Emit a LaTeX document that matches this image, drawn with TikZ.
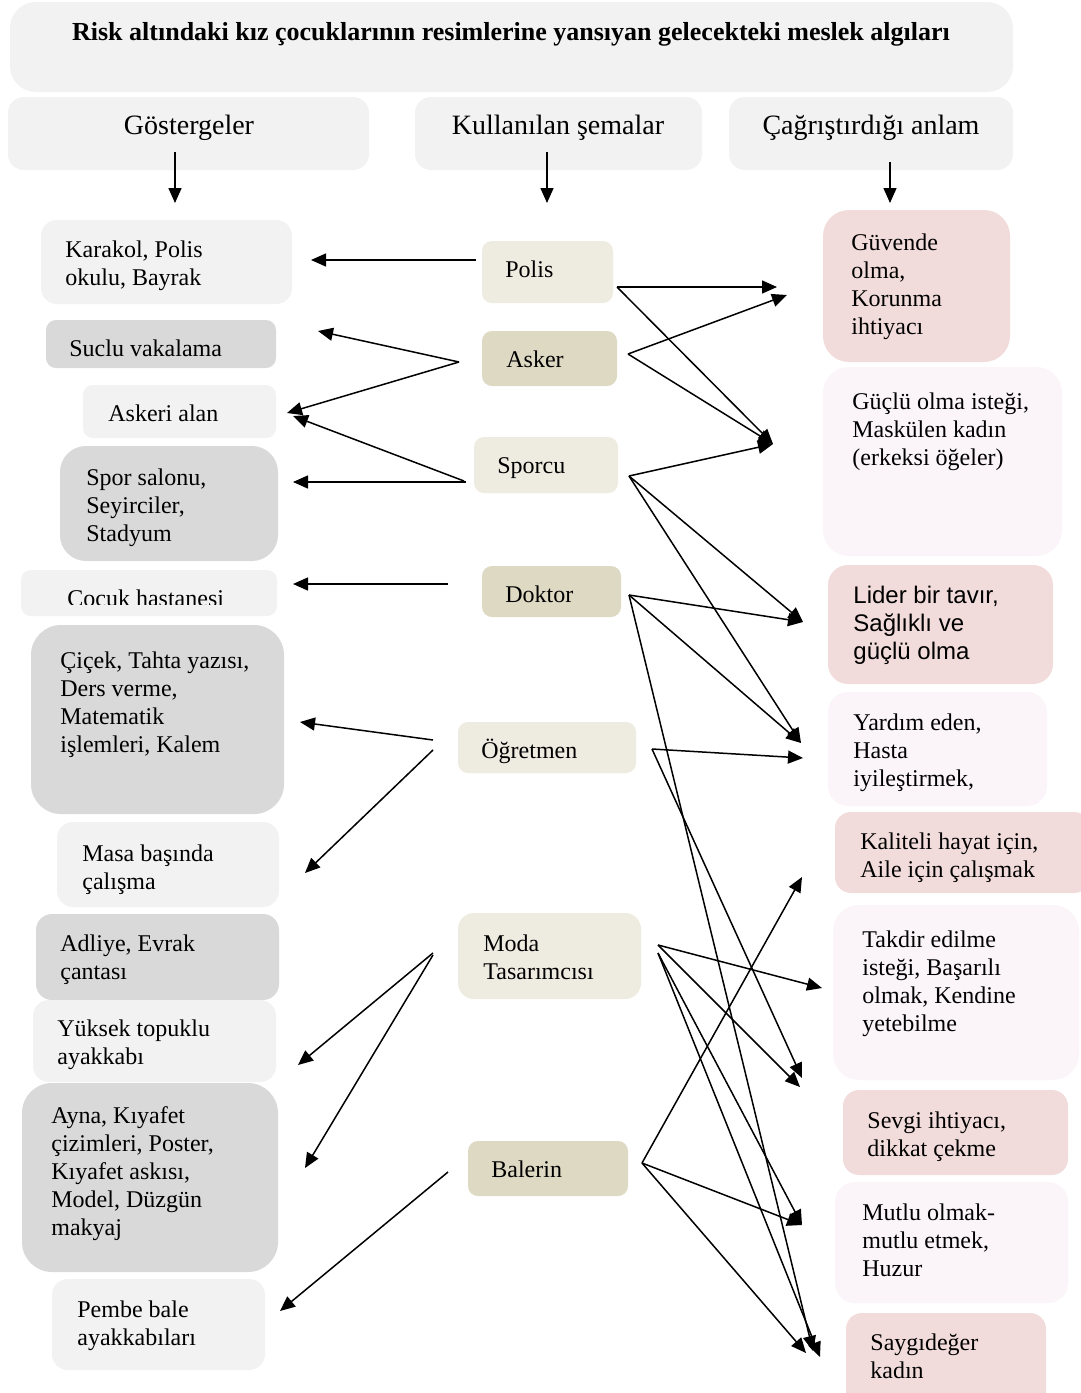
\documentclass[tikz,border=0pt]{standalone}
\usepackage{fontspec}
\setmainfont{Liberation Serif}
\newfontfamily\sansf{Liberation Sans}
\usetikzlibrary{arrows.meta,fit}
\definecolor{lg}{HTML}{F2F2F2}
\definecolor{dg}{HTML}{D9D9D9}
\definecolor{lb}{HTML}{EEECE1}
\definecolor{db}{HTML}{DDD9C3}
\definecolor{pk}{HTML}{F2DCDB}
\definecolor{lp}{HTML}{FBF5F9}
\begin{document}
\begin{tikzpicture}[x=0.5pt,y=-0.5pt,
  arr/.style={-{Triangle[length=7.5pt,width=6.5pt]}, line width=0.75pt},
  bx/.style={inner sep=0pt, draw=none, rounded corners=5pt},
  bigbx/.style={inner sep=0pt, draw=none, rounded corners=13pt},
  txt/.style={anchor=north west, inner sep=0pt, align=left,
    font=\fontsize{12}{14}\selectfont, execute at begin node={\rule{0pt}{10pt}}},
  stxt/.style={txt, font=\sansf\fontsize{12}{14}\selectfont},
  head/.style={inner sep=0pt, font=\fontsize{14}{16}\selectfont},
]
\clip (0,0) rectangle (1081,1393);
\fill[white] (0,0) rectangle (1081,1393);

% title and headers
\node[bigbx, fill=lg, fit={(10,2)(1013,92)}] (title) {};
\node[inner sep=0pt, font=\bfseries\fontsize{13}{15}\selectfont] (titleT) at (511,34) {Risk altındaki kız çocuklarının resimlerine yansıyan gelecekteki meslek algıları};
\node[bx, rounded corners=8pt, fill=lg, fit={(8,97)(369,170)}] (h1) {};
\node[head] (h1T) at (189,128) {Göstergeler};
\node[bx, rounded corners=8pt, fill=lg, fit={(415,97)(702,170)}] (h2) {};
\node[head] (h2T) at (558,128) {Kullanılan şemalar};
\node[bx, rounded corners=8pt, fill=lg, fit={(729,97)(1013,170)}] (h3) {};
\node[head] (h3T) at (871,128) {Çağrıştırdığı anlam};

% left column
\node[bx, rounded corners=8pt, fill=lg, fit={(41,220)(292,304)}] (l1) {};
\node[txt] (l1T) at (65,240) {Karakol, Polis\\okulu, Bayrak};
\node[bx, fill=dg, fit={(46,320)(276,368)}] (l2) {};
\node[txt] (l2T) at (69,336) {Suclu vakalama};
\node[bx, fill=lg, fit={(83,385)(276,438)}] (l3) {};
\node[txt] (l3T) at (108,401) {Askeri alan};
\node[bigbx, fill=dg, fit={(60,446)(278,561)}] (l4) {};
\node[txt] (l4T) at (86,468) {Spor salonu,\\Seyirciler,\\Stadyum};
\node[bx, fill=lg, fit={(21,570)(277,616)}] (l5) {};
\begin{scope}
\clip (0,560) rectangle (300,604);
\node[txt] (l5T) at (67,586) {Cocuk hastanesi};
\end{scope}
\node[bigbx, rounded corners=15pt, fill=dg, fit={(31,625)(284,814)}] (l6) {};
\node[txt] (l6T) at (60,651) {Çiçek, Tahta yazısı,\\Ders verme,\\Matematik\\işlemleri, Kalem};
\node[bx, rounded corners=8pt, fill=lg, fit={(57,822)(279,907)}] (l7) {};
\node[txt] (l7T) at (82,844) {Masa başında\\çalışma};
\node[bx, rounded corners=8pt, fill=dg, fit={(36,914)(279,1000)}] (l8) {};
\node[txt] (l8T) at (60,934) {Adliye, Evrak\\çantası};
\node[bx, rounded corners=8pt, fill=lg, fit={(33,1000)(276,1082)}] (l9) {};
\node[txt] (l9T) at (57,1019) {Yüksek topuklu\\ayakkabı};
\node[bigbx, rounded corners=15pt, fill=dg, fit={(22,1083)(278,1272)}] (l10) {};
\node[txt] (l10T) at (51,1106) {Ayna, Kıyafet\\çizimleri, Poster,\\Kıyafet askısı,\\Model, Düzgün\\makyaj};
\node[bx, rounded corners=8pt, fill=lg, fit={(52,1279)(265,1370)}] (l11) {};
\node[txt] (l11T) at (77,1300) {Pembe bale\\ayakkabıları};

% middle column
\node[bx, fill=lb, fit={(482,241)(613,303)}] (m1) {};
\node[txt] (m1T) at (505,257) {Polis};
\node[bx, fill=db, fit={(482,331)(617,386)}] (m2) {};
\node[txt] (m2T) at (506,347) {Asker};
\node[bx, fill=lb, fit={(474,437)(618,493)}] (m3) {};
\node[txt] (m3T) at (497,453) {Sporcu};
\node[bx, fill=db, fit={(482,566)(621,617)}] (m4) {};
\node[txt] (m4T) at (505,582) {Doktor};
\node[bx, fill=lb, fit={(458,722)(636,773)}] (m5) {};
\node[txt] (m5T) at (481,738) {Öğretmen};
\node[bx, rounded corners=8pt, fill=lb, fit={(458,913)(641,999)}] (m6) {};
\node[txt] (m6T) at (483,934) {Moda\\Tasarımcısı};
\node[bx, fill=db, fit={(468,1141)(628,1196)}] (m7) {};
\node[txt] (m7T) at (491,1157) {Balerin};

% right column
\node[bigbx, fill=pk, fit={(823,210)(1010,362)}] (r1) {};
\node[txt] (r1T) at (851,233) {Güvende\\olma,\\Korunma\\ihtiyacı};
\node[bigbx, fill=lp, fit={(823,367)(1062,556)}] (r2) {};
\node[txt] (r2T) at (852,392) {Güçlü olma isteği,\\Maskülen kadın\\(erkeksi öğeler)};
\node[bigbx, rounded corners=10pt, fill=pk, fit={(828,565)(1053,684)}] (r3) {};
\node[stxt] (r3T) at (853,586) {Lider bir tavır,\\Sağlıklı ve\\güçlü olma};
\node[bigbx, rounded corners=10pt, fill=lp, fit={(828,692)(1047,806)}] (r4) {};
\node[txt] (r4T) at (853,713) {Yardım eden,\\Hasta\\iyileştirmek,};
\node[bx, rounded corners=8pt, fill=pk, fit={(835,812)(1090,893)}] (r5) {};
\node[txt] (r5T) at (860,832) {Kaliteli hayat için,\\Aile için çalışmak};
\node[bigbx, fill=lp, fit={(833,905)(1079,1080)}] (r6) {};
\node[txt] (r6T) at (862,930) {Takdir edilme\\isteği, Başarılı\\olmak, Kendine\\yetebilme};
\node[bx, rounded corners=8pt, fill=pk, fit={(843,1090)(1068,1175)}] (r7) {};
\node[txt] (r7T) at (867,1111) {Sevgi ihtiyacı,\\dikkat çekme};
\node[bigbx, rounded corners=10pt, fill=lp, fit={(835,1182)(1068,1303)}] (r8) {};
\node[txt] (r8T) at (862,1203) {Mutlu olmak-\\mutlu etmek,\\Huzur};
\node[bx, rounded corners=8pt, fill=pk, fit={(846,1313)(1046,1410)}] (r9) {};
\node[txt] (r9T) at (870,1333) {Saygıdeğer\\kadın};

% arrow end points
\coordinate (h1a) at (175,152); \coordinate (h1b) at (175,203);
\coordinate (h2a) at (547,152); \coordinate (h2b) at (547,203);
\coordinate (h3a) at (890,162); \coordinate (h3b) at (890,203);

\coordinate (pL) at (476,260); \coordinate (kT) at (311,260);
\coordinate (aL) at (459,362); \coordinate (sT) at (318,331); \coordinate (akT) at (287,413);
\coordinate (spL) at (464,481); \coordinate (akT2) at (293,416);
\coordinate (spL2) at (466,482); \coordinate (ssT) at (293,482);
\coordinate (dL) at (448,584); \coordinate (chT) at (293,584);
\coordinate (oL1) at (433,740); \coordinate (ciT) at (300,722);
\coordinate (oL2) at (433,750); \coordinate (maT) at (305,873);
\coordinate (moL) at (433,953); \coordinate (ytT) at (298,1065);
\coordinate (moL2) at (433,955); \coordinate (ayT) at (305,1168);
\coordinate (bL) at (448,1172); \coordinate (pbT) at (280,1311);

\coordinate (pR) at (617,287); \coordinate (aR) at (628,354);
\coordinate (spR) at (629,476); \coordinate (dR) at (629,595);
\coordinate (oR) at (652,749); \coordinate (moR) at (658,945);
\coordinate (moR2) at (658,953); \coordinate (bR) at (642,1163);
\coordinate (gvT1) at (777,287); \coordinate (gvT2) at (787,295);
\coordinate (guT) at (773,444);
\coordinate (liT) at (803,622);
\coordinate (yaT) at (801,743); \coordinate (yaT2) at (803,758);
\coordinate (kaT) at (802,877);
\coordinate (taT) at (822,988); \coordinate (taT2) at (800,1087); \coordinate (taT3) at (802,1078);
\coordinate (muT) at (802,1225);
\coordinate (saT1) at (806,1353); \coordinate (saT2) at (813,1351); \coordinate (saT3) at (820,1357);

% arrows
\draw[arr] (h1a) -- (h1b);
\draw[arr] (h2a) -- (h2b);
\draw[arr] (h3a) -- (h3b);

\draw[arr] (pL) -- (kT);
\draw[arr] (aL) -- (sT);
\draw[arr] (aL) -- (akT);
\draw[arr] (spL) -- (akT2);
\draw[arr] (spL2) -- (ssT);
\draw[arr] (dL) -- (chT);
\draw[arr] (oL1) -- (ciT);
\draw[arr] (oL2) -- (maT);
\draw[arr] (moL) -- (ytT);
\draw[arr] (moL2) -- (ayT);
\draw[arr] (bL) -- (pbT);

\draw[arr] (pR) -- (gvT1);
\draw[arr] (pR) -- (guT);
\draw[arr] (aR) -- (gvT2);
\draw[arr] (aR) -- (guT);
\draw[arr] (spR) -- (guT);
\draw[arr] (spR) -- (liT);
\draw[arr] (spR) -- (yaT);
\draw[arr] (dR) -- (liT);
\draw[arr] (dR) -- (yaT);
\draw[arr] (dR) -- (saT2);
\draw[arr] (oR) -- (yaT2);
\draw[arr] (oR) -- (taT3);
\draw[arr] (moR) -- (taT);
\draw[arr] (moR) -- (taT2);
\draw[arr] (moR2) -- (muT);
\draw[arr] (moR2) -- (saT3);
\draw[arr] (bR) -- (kaT);
\draw[arr] (bR) -- (muT);
\draw[arr] (bR) -- (saT1);
\end{tikzpicture}
\end{document}
